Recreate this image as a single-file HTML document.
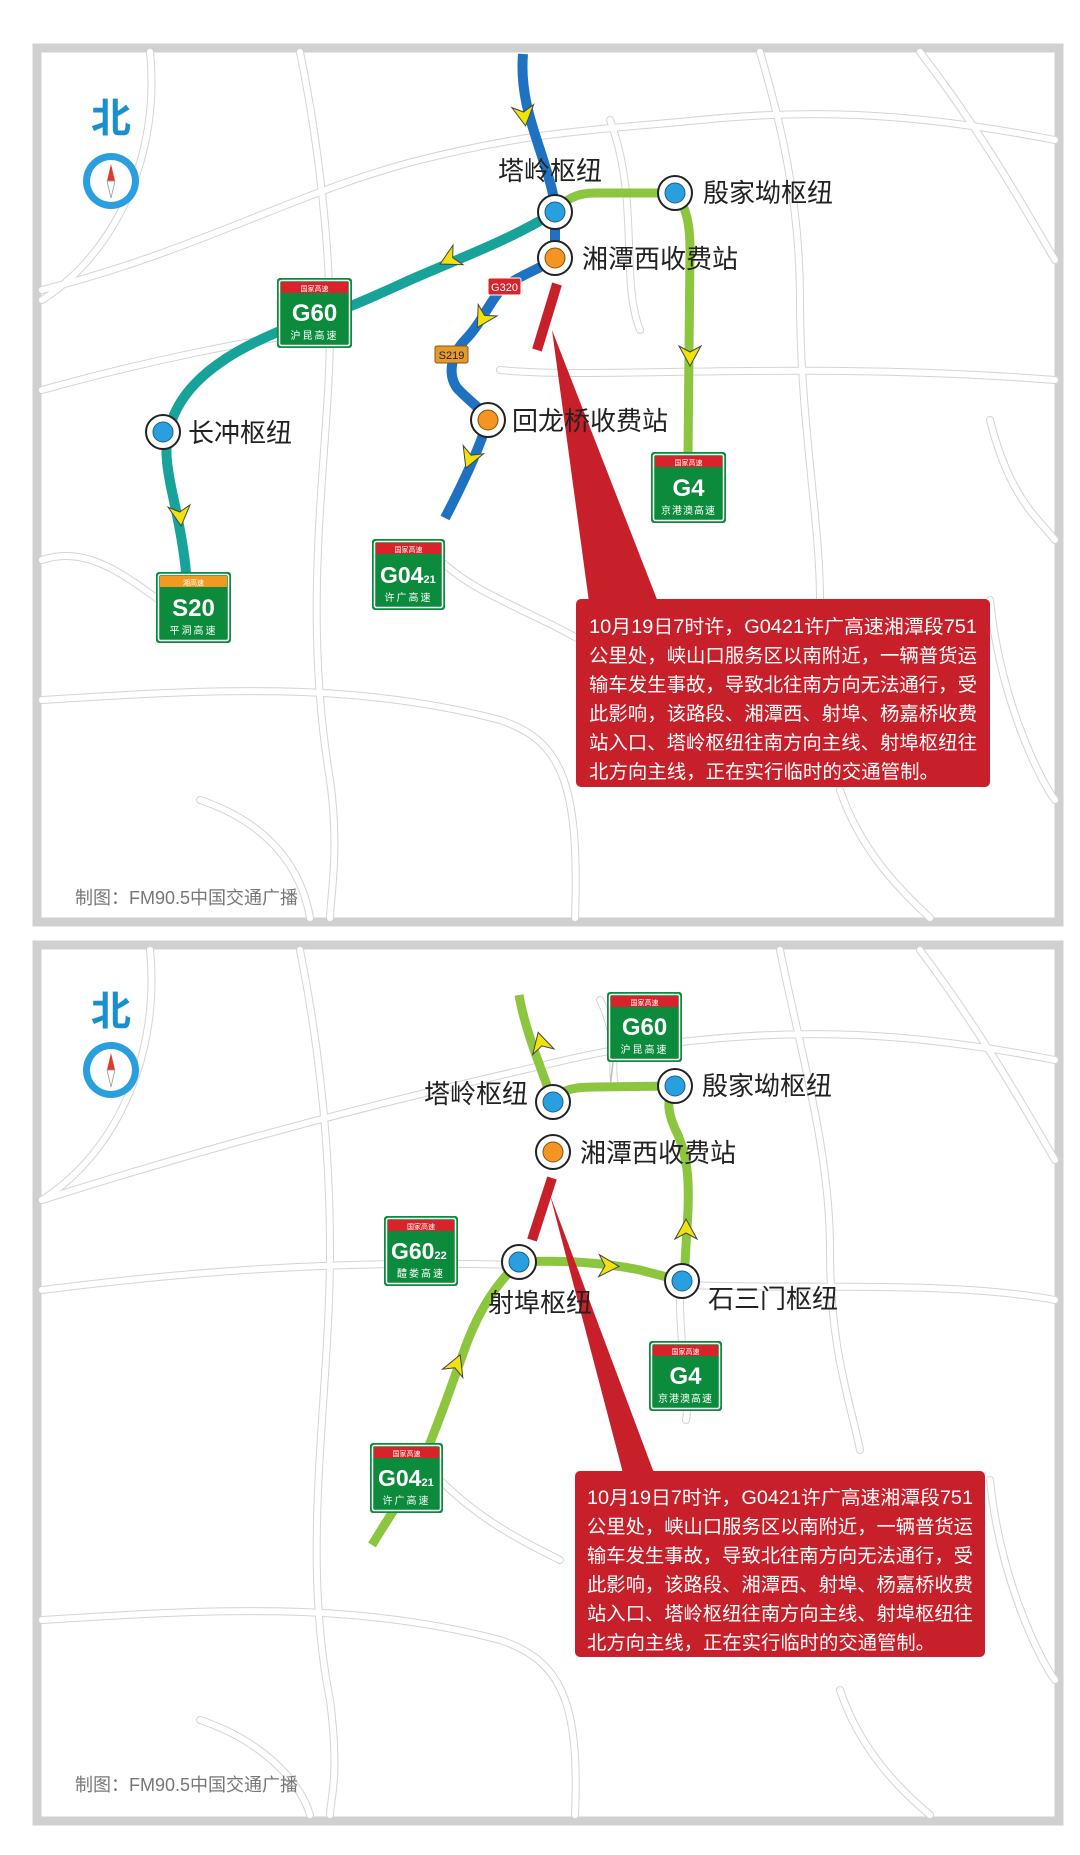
<!DOCTYPE html>
<html><head><meta charset="utf-8"><style>
html,body{margin:0;padding:0;background:#fff}
svg{display:block}
text{font-family:"Liberation Sans","Noto Sans CJK SC",sans-serif}
</style></head><body>
<svg width="1080" height="1855" viewBox="0 0 1080 1855" xmlns="http://www.w3.org/2000/svg">
<defs>
<g id="arr"><polygon points="-11,-9 0,11 11,-9 0,-3" fill="#f2e20c" stroke="#444" stroke-width="1"/></g>
<g id="nb"><circle r="17" fill="#fff" stroke="#222" stroke-width="2"/><circle r="10" fill="#2a9fe0" stroke="#1b5f8a" stroke-width="1"/></g>
<g id="no"><circle r="17" fill="#fff" stroke="#222" stroke-width="2"/><circle r="10" fill="#f39423" stroke="#8a4f10" stroke-width="1"/></g>
<g id="cmp"><circle r="28" fill="#2a9fe0"/><circle r="21" fill="#fff"/><polygon points="0,-17 -4,0 4,0" fill="#e03a2c"/><polygon points="0,17 -4,0 4,0" fill="#fff" stroke="#999" stroke-width="0.8"/></g>
</defs>

<rect x="37" y="48" width="1022" height="874" fill="#fff" stroke="#d0d0d0" stroke-width="9"/>
<rect x="37" y="945" width="1022" height="876" fill="#fff" stroke="#d0d0d0" stroke-width="9"/>

<g fill="none" stroke="#d4d4d4" stroke-width="8" stroke-linecap="round">
<path d="M42 290 C200 250 300 190 420 160 S600 130 700 120 S900 110 1055 140"/>
<path d="M42 390 C150 360 250 340 330 330"/>
<path d="M500 370 C600 380 800 360 1055 380"/>
<path d="M300 52 C320 150 330 250 330 330 C330 450 300 600 330 780 C340 850 330 900 330 918"/>
<path d="M760 52 C780 120 800 200 800 300 C800 420 820 520 820 600"/>
<path d="M920 52 C980 130 1020 200 1055 260"/>
<path d="M42 700 C200 690 350 680 500 720 C560 740 580 780 575 918"/>
<path d="M990 600 C1000 700 1040 780 1055 800"/>
<path d="M150 52 C160 150 120 250 42 300"/>
<path d="M42 560 C100 540 150 600 190 620"/>
<path d="M440 560 C480 600 560 620 610 660 C620 680 610 700 620 720"/>
<path d="M610 120 C640 200 620 280 640 330"/>
<path d="M200 800 C260 820 300 860 310 918"/>
<path d="M840 790 C860 850 900 890 930 918"/>
<path d="M990 420 C1010 500 1040 520 1055 540"/>
</g>
<g fill="none" stroke="#fff" stroke-width="6" stroke-linecap="round">
<path d="M42 290 C200 250 300 190 420 160 S600 130 700 120 S900 110 1055 140"/>
<path d="M42 390 C150 360 250 340 330 330"/>
<path d="M500 370 C600 380 800 360 1055 380"/>
<path d="M300 52 C320 150 330 250 330 330 C330 450 300 600 330 780 C340 850 330 900 330 918"/>
<path d="M760 52 C780 120 800 200 800 300 C800 420 820 520 820 600"/>
<path d="M920 52 C980 130 1020 200 1055 260"/>
<path d="M42 700 C200 690 350 680 500 720 C560 740 580 780 575 918"/>
<path d="M990 600 C1000 700 1040 780 1055 800"/>
<path d="M150 52 C160 150 120 250 42 300"/>
<path d="M42 560 C100 540 150 600 190 620"/>
<path d="M440 560 C480 600 560 620 610 660 C620 680 610 700 620 720"/>
<path d="M610 120 C640 200 620 280 640 330"/>
<path d="M200 800 C260 820 300 860 310 918"/>
<path d="M840 790 C860 850 900 890 930 918"/>
<path d="M990 420 C1010 500 1040 520 1055 540"/>
</g>

<g fill="none" stroke="#d4d4d4" stroke-width="8" stroke-linecap="round">
<path d="M42 1200 C200 1150 350 1110 480 1080 S600 1050 700 1040 S900 1030 1055 1060"/>
<path d="M42 1290 C200 1270 350 1260 520 1265"/>
<path d="M690 1285 C800 1290 950 1280 1055 1300"/>
<path d="M300 950 C320 1050 330 1150 330 1250 C330 1400 300 1550 330 1700 C340 1780 330 1800 330 1815"/>
<path d="M780 950 C800 1050 830 1150 830 1250 C830 1350 850 1400 860 1450"/>
<path d="M920 950 C980 1030 1020 1100 1055 1160"/>
<path d="M42 1620 C200 1610 350 1600 500 1640 C560 1660 580 1700 575 1815"/>
<path d="M990 1480 C1000 1580 1040 1660 1055 1680"/>
<path d="M150 950 C160 1050 120 1150 42 1200"/>
<path d="M440 1480 C480 1520 520 1540 560 1560"/>
<path d="M600 1000 C620 1040 610 1070 615 1085"/>
<path d="M200 1720 C260 1740 300 1780 310 1815"/>
<path d="M840 1690 C860 1750 900 1790 930 1815"/>
<path d="M680 1300 C680 1350 690 1400 686 1420"/>
</g>
<g fill="none" stroke="#fff" stroke-width="6" stroke-linecap="round">
<path d="M42 1200 C200 1150 350 1110 480 1080 S600 1050 700 1040 S900 1030 1055 1060"/>
<path d="M42 1290 C200 1270 350 1260 520 1265"/>
<path d="M690 1285 C800 1290 950 1280 1055 1300"/>
<path d="M300 950 C320 1050 330 1150 330 1250 C330 1400 300 1550 330 1700 C340 1780 330 1800 330 1815"/>
<path d="M780 950 C800 1050 830 1150 830 1250 C830 1350 850 1400 860 1450"/>
<path d="M920 950 C980 1030 1020 1100 1055 1160"/>
<path d="M42 1620 C200 1610 350 1600 500 1640 C560 1660 580 1700 575 1815"/>
<path d="M990 1480 C1000 1580 1040 1660 1055 1680"/>
<path d="M150 950 C160 1050 120 1150 42 1200"/>
<path d="M440 1480 C480 1520 520 1540 560 1560"/>
<path d="M600 1000 C620 1040 610 1070 615 1085"/>
<path d="M200 1720 C260 1740 300 1780 310 1815"/>
<path d="M840 1690 C860 1750 900 1790 930 1815"/>
<path d="M680 1300 C680 1350 690 1400 686 1420"/>
</g>

<!-- PANEL 1 -->
<text x="111" y="132" font-size="40" font-weight="bold" fill="#1a8fd0" text-anchor="middle">北</text>
<use href="#cmp" transform="translate(111,181)"/>

<path d="M523 54 C520 90 530 120 540 150 C548 175 555 195 555 212 L555 258 C540 270 515 276 499 292 C488 305 480 325 465 340 C450 356 448 375 457 388 C468 400 485 412 488 420 C482 440 470 470 445 518" fill="none" stroke="#1f72c2" stroke-width="10" stroke-linejoin="round"/>
<path d="M555 212 C510 240 460 258 410 280 C370 298 345 310 320 316 C250 340 190 370 172 420 C160 450 170 480 178 520 C184 550 186 570 186 575" fill="none" stroke="#17a39a" stroke-width="10"/>
<path d="M555 212 C565 200 575 193 595 193 L675 193 C685 205 690 220 690 250 L688 455" fill="none" stroke="#8cc63f" stroke-width="9"/>
<path d="M557 284 L537 350" stroke="#c8202a" stroke-width="10"/>

<use href="#arr" transform="translate(524,115) rotate(-8)"/>
<use href="#arr" transform="translate(450,259) rotate(63)"/>
<use href="#arr" transform="translate(483,318) rotate(31)"/>
<use href="#arr" transform="translate(470,458) rotate(22)"/>
<use href="#arr" transform="translate(180,515) rotate(-6)"/>
<use href="#arr" transform="translate(690,355) rotate(0)"/>

<polygon points="552,330 589,602 658,602" fill="#c8202a"/>
<rect x="576" y="599" width="414" height="188" rx="5" fill="#c8202a"/>
<g font-size="19" fill="#fff" lengthAdjust="spacingAndGlyphs">
<text x="589" y="633" textLength="388" lengthAdjust="spacingAndGlyphs">10月19日7时许，G0421许广高速湘潭段751</text>
<text x="589" y="662" textLength="388" lengthAdjust="spacingAndGlyphs">公里处，峡山口服务区以南附近，一辆普货运</text>
<text x="589" y="691" textLength="388" lengthAdjust="spacingAndGlyphs">输车发生事故，导致北往南方向无法通行，受</text>
<text x="589" y="720" textLength="388" lengthAdjust="spacingAndGlyphs">此影响，该路段、湘潭西、射埠、杨嘉桥收费</text>
<text x="589" y="749" textLength="388" lengthAdjust="spacingAndGlyphs">站入口、塔岭枢纽往南方向主线、射埠枢纽往</text>
<text x="589" y="778" textLength="350" lengthAdjust="spacingAndGlyphs">北方向主线，正在实行临时的交通管制。</text>
</g>

<rect x="488" y="278" width="33" height="17" rx="2" fill="#d8232a" stroke="#fff" stroke-width="1"/>
<text x="504.5" y="291" font-size="11" fill="#fff" text-anchor="middle">G320</text>
<rect x="435" y="346" width="33" height="17" rx="2" fill="#e39a2a" stroke="#8a5a10" stroke-width="1"/>
<text x="451.5" y="359" font-size="11" fill="#222" text-anchor="middle">S219</text>

<use href="#nb" transform="translate(555,212)"/>
<use href="#no" transform="translate(555,258)"/>
<use href="#nb" transform="translate(675,193)"/>
<use href="#no" transform="translate(488,420)"/>
<use href="#nb" transform="translate(163,432)"/>

<g font-size="26" fill="#222">
<text x="550" y="180" text-anchor="middle">塔岭枢纽</text>
<text x="703" y="202">殷家坳枢纽</text>
<text x="582" y="268">湘潭西收费站</text>
<text x="512" y="430">回龙桥收费站</text>
<text x="188" y="442">长冲枢纽</text>
</g>

<g transform="translate(277,278)"><rect width="75" height="70" rx="3" fill="#0b8b3b"/><rect x="2.5" y="2.5" width="70" height="65" rx="2" fill="none" stroke="#fff" stroke-width="1.5"/><rect x="4" y="4" width="67" height="11" fill="#d8232a"/><text x="37.5" y="13" font-size="7" fill="#fff" text-anchor="middle">国家高速</text><text x="37.5" y="43" font-size="24" font-weight="bold" fill="#fff" text-anchor="middle">G60</text><text x="37.5" y="61" font-size="10" fill="#fff" text-anchor="middle" letter-spacing="2">沪昆高速</text></g>
<g transform="translate(372,539)"><rect width="73" height="71" rx="3" fill="#0b8b3b"/><rect x="2.5" y="2.5" width="68" height="66" rx="2" fill="none" stroke="#fff" stroke-width="1.5"/><rect x="4" y="4" width="65" height="11" fill="#d8232a"/><text x="36.5" y="13" font-size="7" fill="#fff" text-anchor="middle">国家高速</text><text x="8" y="44" font-size="23" font-weight="bold" fill="#fff">G04<tspan font-size="11">21</tspan></text><text x="36.5" y="62" font-size="10" fill="#fff" text-anchor="middle" letter-spacing="2">许广高速</text></g>
<g transform="translate(156,572)"><rect width="75" height="71" rx="3" fill="#0b8b3b"/><rect x="2.5" y="2.5" width="70" height="66" rx="2" fill="none" stroke="#fff" stroke-width="1.5"/><rect x="4" y="4" width="67" height="11" fill="#f29a1f"/><text x="37.5" y="13" font-size="7" fill="#fff" text-anchor="middle">湘高速</text><text x="37.5" y="44" font-size="24" font-weight="bold" fill="#fff" text-anchor="middle">S20</text><text x="37.5" y="62" font-size="10" fill="#fff" text-anchor="middle" letter-spacing="2">平洞高速</text></g>
<g transform="translate(651,452)"><rect width="75" height="71" rx="3" fill="#0b8b3b"/><rect x="2.5" y="2.5" width="70" height="66" rx="2" fill="none" stroke="#fff" stroke-width="1.5"/><rect x="4" y="4" width="67" height="11" fill="#d8232a"/><text x="37.5" y="13" font-size="7" fill="#fff" text-anchor="middle">国家高速</text><text x="37.5" y="44" font-size="24" font-weight="bold" fill="#fff" text-anchor="middle">G4</text><text x="37.5" y="62" font-size="10" fill="#fff" text-anchor="middle" letter-spacing="1">京港澳高速</text></g>

<text x="75" y="904" font-size="18" fill="#777">制图：FM90.5中国交通广播</text>

<!-- PANEL 2 -->
<text x="111" y="1025" font-size="40" font-weight="bold" fill="#1a8fd0" text-anchor="middle">北</text>
<use href="#cmp" transform="translate(111,1070)"/>

<path d="M613 1062 L610 1087" stroke="#bbb" stroke-width="1.5"/>
<path d="M519 995 C525 1030 540 1065 553 1102" fill="none" stroke="#8cc63f" stroke-width="9"/>
<path d="M553 1102 C560 1090 572 1087 595 1087 L675 1086 C665 1100 668 1115 678 1135 C688 1160 689 1180 688 1210 L684 1281" fill="none" stroke="#8cc63f" stroke-width="9"/>
<path d="M519 1262 C560 1260 600 1262 640 1270 L682 1281" fill="none" stroke="#8cc63f" stroke-width="9"/>
<path d="M519 1262 C495 1285 480 1310 468 1340 C455 1375 440 1420 425 1455 C405 1495 390 1515 372 1545" fill="none" stroke="#8cc63f" stroke-width="9"/>
<path d="M552 1178 L532 1240" stroke="#c8202a" stroke-width="10"/>

<use href="#arr" transform="translate(541,1043) rotate(165)"/>
<use href="#arr" transform="translate(686,1230) rotate(180)"/>
<use href="#arr" transform="translate(608,1266) rotate(-88)"/>
<use href="#arr" transform="translate(456,1365) rotate(-158)"/>

<polygon points="550,1195 623,1473 654,1473" fill="#c8202a"/>
<rect x="575" y="1471" width="410" height="186" rx="5" fill="#c8202a"/>
<g font-size="19" fill="#fff">
<text x="587" y="1504" textLength="386" lengthAdjust="spacingAndGlyphs">10月19日7时许，G0421许广高速湘潭段751</text>
<text x="587" y="1533" textLength="386" lengthAdjust="spacingAndGlyphs">公里处，峡山口服务区以南附近，一辆普货运</text>
<text x="587" y="1562" textLength="386" lengthAdjust="spacingAndGlyphs">输车发生事故，导致北往南方向无法通行，受</text>
<text x="587" y="1591" textLength="386" lengthAdjust="spacingAndGlyphs">此影响，该路段、湘潭西、射埠、杨嘉桥收费</text>
<text x="587" y="1620" textLength="386" lengthAdjust="spacingAndGlyphs">站入口、塔岭枢纽往南方向主线、射埠枢纽往</text>
<text x="587" y="1649" textLength="348" lengthAdjust="spacingAndGlyphs">北方向主线，正在实行临时的交通管制。</text>
</g>

<use href="#nb" transform="translate(553,1102)"/>
<use href="#no" transform="translate(553,1152)"/>
<use href="#nb" transform="translate(675,1086)"/>
<use href="#nb" transform="translate(519,1262)"/>
<use href="#nb" transform="translate(682,1281)"/>

<g font-size="26" fill="#222">
<text x="528" y="1103" text-anchor="end">塔岭枢纽</text>
<text x="702" y="1095">殷家坳枢纽</text>
<text x="580" y="1162">湘潭西收费站</text>
<text x="540" y="1312" text-anchor="middle">射埠枢纽</text>
<text x="708" y="1308">石三门枢纽</text>
</g>

<g transform="translate(607,992)"><rect width="75" height="70" rx="3" fill="#0b8b3b"/><rect x="2.5" y="2.5" width="70" height="65" rx="2" fill="none" stroke="#fff" stroke-width="1.5"/><rect x="4" y="4" width="67" height="11" fill="#d8232a"/><text x="37.5" y="13" font-size="7" fill="#fff" text-anchor="middle">国家高速</text><text x="37.5" y="43" font-size="24" font-weight="bold" fill="#fff" text-anchor="middle">G60</text><text x="37.5" y="61" font-size="10" fill="#fff" text-anchor="middle" letter-spacing="2">沪昆高速</text></g>
<g transform="translate(384,1216)"><rect width="74" height="70" rx="3" fill="#0b8b3b"/><rect x="2.5" y="2.5" width="69" height="65" rx="2" fill="none" stroke="#fff" stroke-width="1.5"/><rect x="4" y="4" width="66" height="11" fill="#d8232a"/><text x="37" y="13" font-size="7" fill="#fff" text-anchor="middle">国家高速</text><text x="7" y="43" font-size="23" font-weight="bold" fill="#fff">G60<tspan font-size="11">22</tspan></text><text x="37" y="61" font-size="10" fill="#fff" text-anchor="middle" letter-spacing="2">醴娄高速</text></g>
<g transform="translate(649,1341)"><rect width="73" height="70" rx="3" fill="#0b8b3b"/><rect x="2.5" y="2.5" width="68" height="65" rx="2" fill="none" stroke="#fff" stroke-width="1.5"/><rect x="4" y="4" width="65" height="11" fill="#d8232a"/><text x="36.5" y="13" font-size="7" fill="#fff" text-anchor="middle">国家高速</text><text x="36.5" y="43" font-size="24" font-weight="bold" fill="#fff" text-anchor="middle">G4</text><text x="36.5" y="61" font-size="10" fill="#fff" text-anchor="middle" letter-spacing="1">京港澳高速</text></g>
<g transform="translate(370,1443)"><rect width="73" height="70" rx="3" fill="#0b8b3b"/><rect x="2.5" y="2.5" width="68" height="65" rx="2" fill="none" stroke="#fff" stroke-width="1.5"/><rect x="4" y="4" width="65" height="11" fill="#d8232a"/><text x="36.5" y="13" font-size="7" fill="#fff" text-anchor="middle">国家高速</text><text x="8" y="43" font-size="23" font-weight="bold" fill="#fff">G04<tspan font-size="11">21</tspan></text><text x="36.5" y="61" font-size="10" fill="#fff" text-anchor="middle" letter-spacing="2">许广高速</text></g>

<text x="75" y="1791" font-size="18" fill="#777">制图：FM90.5中国交通广播</text>
</svg>
</body></html>
